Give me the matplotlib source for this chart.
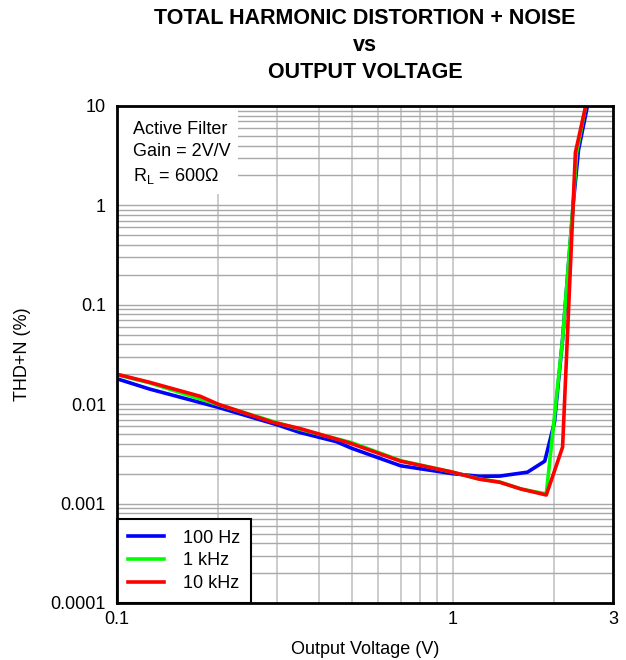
import numpy as np
import matplotlib
matplotlib.use('Agg')
import matplotlib.pyplot as plt
from matplotlib.patches import Rectangle
from matplotlib.ticker import FixedLocator, NullFormatter

plt.rcParams['font.family'] = ['Liberation Sans', 'DejaVu Sans']

# data (output voltage V, THD+N %)
v_100 = [0.1, 0.125, 0.2, 0.3, 0.35, 0.45, 0.5, 0.7, 1.0, 1.2, 1.38, 1.67, 1.88, 2.01, 2.125, 2.29, 2.37, 2.52]
thd_100 = [0.018, 0.0142, 0.0093, 0.0062, 0.0052, 0.0042, 0.0036, 0.0024, 0.002, 0.00188, 0.00189, 0.00207, 0.00267, 0.0066, 0.045, 1.1, 3.6, 10]

v_1k = [0.1, 0.125, 0.2, 0.3, 0.35, 0.5, 0.7, 1.0, 1.2, 1.38, 1.6, 1.9, 2.125, 2.29, 2.34, 2.49]
thd_1k = [0.0198, 0.0164, 0.0099, 0.0065, 0.0056, 0.0041, 0.0027, 0.00207, 0.00177, 0.00165, 0.0014, 0.00125, 0.045, 1.15, 3.4, 10]

v_10k = [0.1, 0.125, 0.177, 0.2, 0.29, 0.35, 0.49, 0.7, 1.0, 1.2, 1.38, 1.6, 1.9, 2.125, 2.32, 2.49]
thd_10k = [0.020, 0.0166, 0.0120, 0.0100, 0.0066, 0.0057, 0.0041, 0.00267, 0.00207, 0.00176, 0.00164, 0.0014, 0.00122, 0.0037, 3.4, 10]

fig = plt.figure(figsize=(6.26, 6.60), dpi=100)
ax = fig.add_axes([0.187, 0.0864, 0.792, 0.753])

ax.plot(v_100, thd_100, color='#0000ff', lw=2.6, label='100 Hz', zorder=3)
ax.plot(v_1k, thd_1k, color='#00ff00', lw=2.6, label='1 kHz', zorder=4)
ax.plot(v_10k, thd_10k, color='#ff0000', lw=2.6, label='10 kHz', zorder=5)

ax.set_xscale('log')
ax.set_yscale('log')
ax.set_xlim(0.1, 3)
ax.set_ylim(0.0001, 10)

ax.xaxis.set_major_locator(FixedLocator([0.1, 1, 3]))
ax.set_xticklabels(['0.1', '1', '3'])
ax.xaxis.set_minor_locator(FixedLocator([0.2, 0.3, 0.4, 0.5, 0.6, 0.7, 0.8, 0.9, 2]))
ax.xaxis.set_minor_formatter(NullFormatter())
ax.yaxis.set_major_locator(FixedLocator([0.0001, 0.001, 0.01, 0.1, 1, 10]))
ax.set_yticklabels(['0.0001', '0.001', '0.01', '0.1', '1', '10'])
ax.yaxis.set_minor_locator(FixedLocator([m * 10.0 ** e for e in range(-4, 1) for m in range(2, 10)]))
ax.yaxis.set_minor_formatter(NullFormatter())

ax.tick_params(which='both', length=0, labelsize=13)
ax.tick_params(axis='y', pad=8)
ax.tick_params(axis='x', pad=6)
ax.grid(which='both', axis='x', color='#c4c4c4', lw=1.2)
ax.grid(which='both', axis='y', color='#a8a8a8', lw=1.0)
ax.set_axisbelow(True)
for s in ax.spines.values():
    s.set_linewidth(2)
    s.set_zorder(10)

# white box behind the annotation
ax.add_patch(Rectangle((0, 0.823), 0.244, 0.177, transform=ax.transAxes,
                       facecolor='white', edgecolor='none', zorder=2))
ax.text(0.032, 0.97, 'Active Filter\nGain = 2V/V\nR$_\\mathregular{L}$ = 600\u03a9',
        transform=ax.transAxes, fontsize=13, va='top', ha='left',
        linespacing=1.38, zorder=6)

leg = ax.legend(loc='lower left', bbox_to_anchor=(0, 0), borderaxespad=0,
                fontsize=13, fancybox=False, framealpha=1, edgecolor='black',
                handlelength=2.0, handletextpad=1.05, borderpad=0.6, labelspacing=0.32)
leg.get_frame().set_linewidth(1.5)
leg.set_zorder(8)

ax.set_xlabel('Output Voltage (V)', fontsize=13, labelpad=9)
ax.set_ylabel('THD+N (%)', fontsize=13, labelpad=14)
ax.set_title('TOTAL HARMONIC DISTORTION + NOISE\nvs\nOUTPUT VOLTAGE',
             fontsize=15.5, fontweight='bold', linespacing=1.38, pad=20)

plt.savefig('out.png', dpi=100)
